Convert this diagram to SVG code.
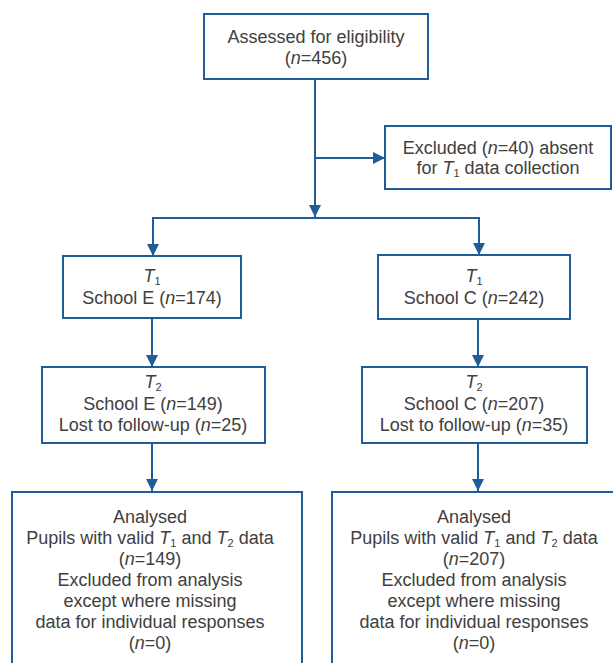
<svg xmlns="http://www.w3.org/2000/svg" width="613" height="663" viewBox="0 0 613 663">
<style>
.box{fill:#fff;stroke:#1f5c99;stroke-width:2}
.ln{fill:none;stroke:#1f5c99;stroke-width:2}
text{font-family:"Liberation Sans",Arial,sans-serif;font-size:18px;fill:#404040;text-anchor:middle}
.i{font-style:italic}
.s{font-size:11px}
</style>
<defs>
<marker id="ah" markerWidth="12" markerHeight="12" refX="12" refY="6" orient="auto" markerUnits="userSpaceOnUse">
<path d="M0,0 L12,6 L0,12 Z" fill="#1f5c99"/>
</marker>
</defs>
<rect width="613" height="663" fill="#fff"/>
<g id="connectors">
<line class="ln" x1="315" y1="79" x2="315" y2="217" marker-end="url(#ah)"/>
<line class="ln" x1="315" y1="158" x2="385" y2="158" marker-end="url(#ah)"/>
<polyline class="ln" points="153,256 153,218 479,218 479,255" marker-end="url(#ah)"/>
<line class="ln" x1="153" y1="218" x2="153" y2="256" marker-end="url(#ah)"/>
<line class="ln" x1="152" y1="318" x2="152" y2="367" marker-end="url(#ah)"/>
<line class="ln" x1="478" y1="319" x2="478" y2="367" marker-end="url(#ah)"/>
<line class="ln" x1="152" y1="443" x2="152" y2="491" marker-end="url(#ah)"/>
<line class="ln" x1="478" y1="443" x2="478" y2="491" marker-end="url(#ah)"/>
</g>
<g id="assessed">
<rect class="box" x="204" y="14" width="224" height="65"/>
<text x="316" y="43">Assessed for eligibility</text>
<text x="316" y="64">(<tspan class="i">n</tspan>=456)</text>
</g>
<g id="excluded">
<rect class="box" x="385" y="126" width="226" height="63"/>
<text x="498" y="154">Excluded (<tspan class="i">n</tspan>=40) absent</text>
<text x="498" y="174">for <tspan class="i">T</tspan><tspan class="s" dy="3">1</tspan><tspan dy="-3"> data collection</tspan></text>
</g>
<g id="t1e">
<rect class="box" x="63" y="256" width="178" height="62"/>
<text x="152" y="282"><tspan class="i">T</tspan><tspan class="s" dy="3">1</tspan></text>
<text x="152" y="304">School E (<tspan class="i">n</tspan>=174)</text>
</g>
<g id="t1c">
<rect class="box" x="378" y="255" width="192" height="64"/>
<text x="474" y="282"><tspan class="i">T</tspan><tspan class="s" dy="3">1</tspan></text>
<text x="474" y="304">School C (<tspan class="i">n</tspan>=242)</text>
</g>
<g id="t2e">
<rect class="box" x="42" y="367" width="223" height="76"/>
<text x="153" y="388"><tspan class="i">T</tspan><tspan class="s" dy="3">2</tspan></text>
<text x="153" y="410">School E (<tspan class="i">n</tspan>=149)</text>
<text x="153" y="431">Lost to follow-up (<tspan class="i">n</tspan>=25)</text>
</g>
<g id="t2c">
<rect class="box" x="362" y="367" width="225" height="76"/>
<text x="474" y="388"><tspan class="i">T</tspan><tspan class="s" dy="3">2</tspan></text>
<text x="474" y="410">School C (<tspan class="i">n</tspan>=207)</text>
<text x="474" y="431">Lost to follow-up (<tspan class="i">n</tspan>=35)</text>
</g>
<g id="analysede">
<rect class="box" x="12" y="492" width="290" height="180"/>
<text x="150" y="523">Analysed</text>
<text x="150" y="544">Pupils with valid <tspan class="i">T</tspan><tspan class="s" dy="3">1</tspan><tspan dy="-3"> and </tspan><tspan class="i">T</tspan><tspan class="s" dy="3">2</tspan><tspan dy="-3"> data</tspan></text>
<text x="150" y="565">(<tspan class="i">n</tspan>=149)</text>
<text x="150" y="586">Excluded from analysis</text>
<text x="150" y="607">except where missing</text>
<text x="150" y="628">data for individual responses</text>
<text x="150" y="649">(<tspan class="i">n</tspan>=0)</text>
</g>
<g id="analysedc">
<rect class="box" x="332" y="492" width="290" height="180"/>
<text x="474" y="523">Analysed</text>
<text x="474" y="544">Pupils with valid <tspan class="i">T</tspan><tspan class="s" dy="3">1</tspan><tspan dy="-3"> and </tspan><tspan class="i">T</tspan><tspan class="s" dy="3">2</tspan><tspan dy="-3"> data</tspan></text>
<text x="474" y="565">(<tspan class="i">n</tspan>=207)</text>
<text x="474" y="586">Excluded from analysis</text>
<text x="474" y="607">except where missing</text>
<text x="474" y="628">data for individual responses</text>
<text x="474" y="649">(<tspan class="i">n</tspan>=0)</text>
</g>
</svg>
